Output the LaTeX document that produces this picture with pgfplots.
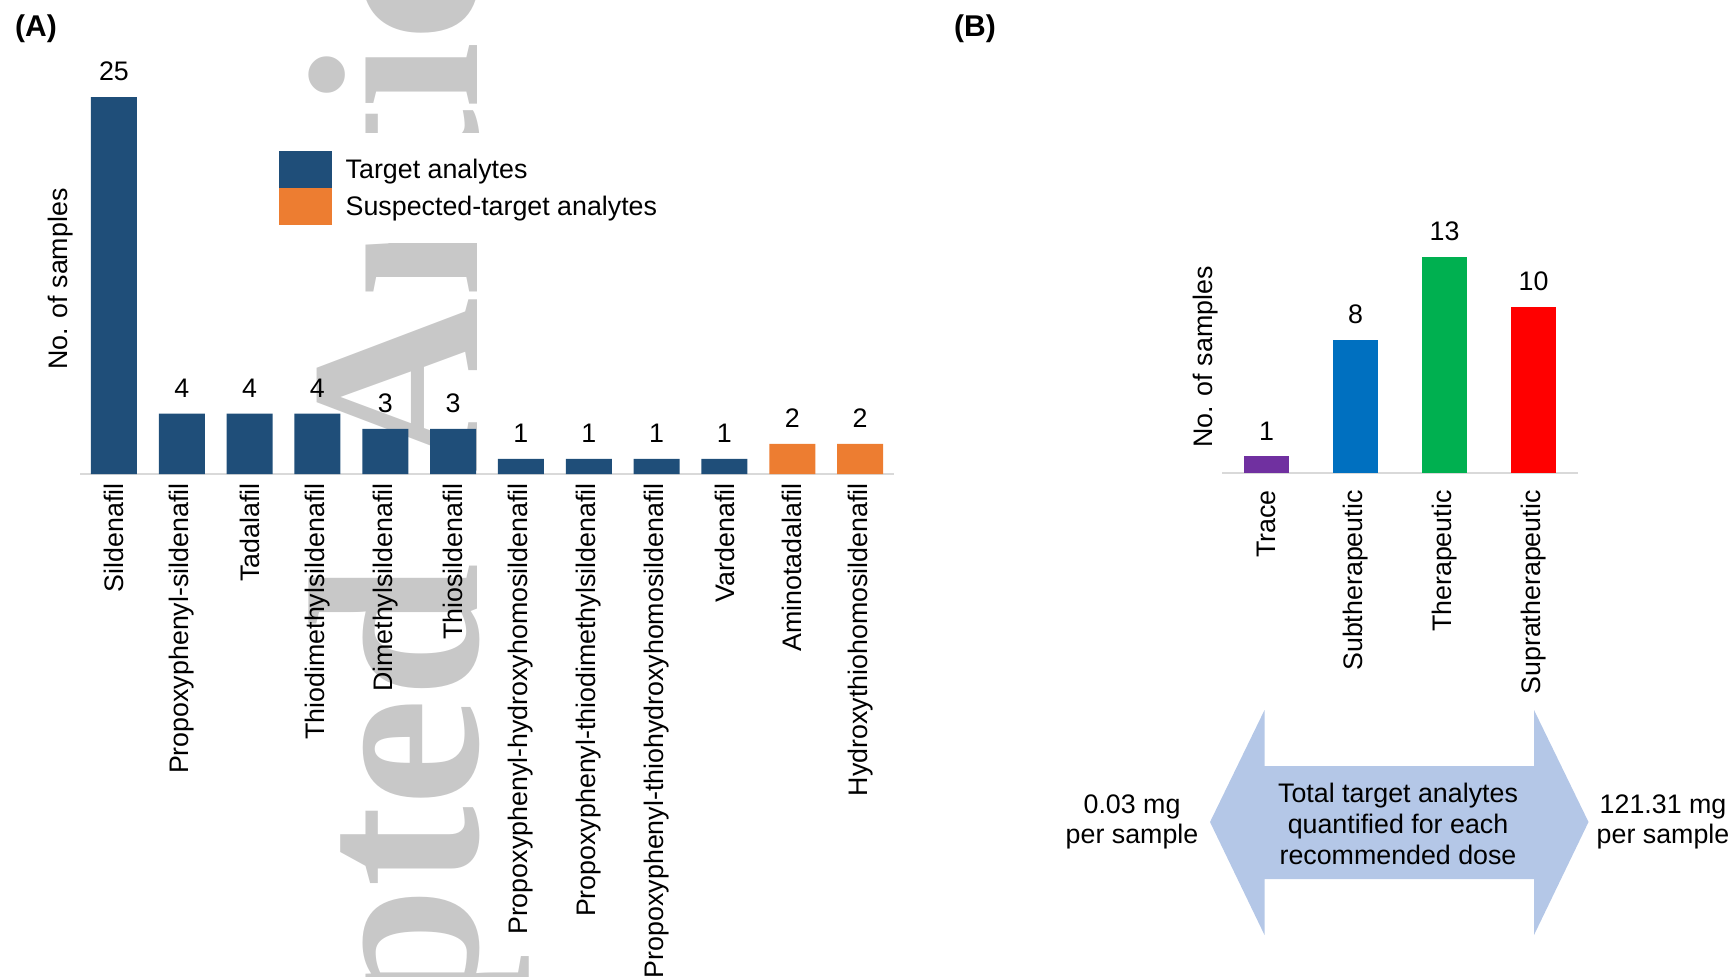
\documentclass[border=0pt]{standalone}
\usepackage{pgfplots}
\pgfplotsset{compat=1.18}
\usepackage{pgfplotstable}
\usepackage{fontspec}
\setmainfont{Liberation Sans}[Ligatures=CommonOff]
\newfontfamily\wmfont{Liberation Serif}
\definecolor{tblue}{HTML}{1F4E79}
\definecolor{torange}{HTML}{ED7D31}
\definecolor{cpurple}{HTML}{7030A0}
\definecolor{cblue}{HTML}{0070C0}
\definecolor{cgreen}{HTML}{00B050}
\definecolor{cred}{HTML}{FF0000}
\definecolor{arrowblue}{HTML}{B4C7E7}
\definecolor{wmgray}{HTML}{C8C8C8}
\definecolor{axgray}{HTML}{D9D9D9}
\newcommand{\fs}{\fontsize{13.4}{15.4}\selectfont}

\pgfplotstableread{
x y
0 25
1 4
2 4
3 4
4 3
5 3
6 1
7 1
8 1
9 1
}\targetA
\pgfplotstableread{
x y
10 2
11 2
}\suspA
\pgfplotstableread{
x y
0 1
}\traceB
\pgfplotstableread{
x y
1 8
}\subB
\pgfplotstableread{
x y
2 13
}\therB
\pgfplotstableread{
x y
3 10
}\supB

\pgfplotsset{
  common/.style={
    scale only axis, clip=false, enlargelimits=false,
    axis x line=bottom, axis y line=left, axis line style={-},
    y axis line style={draw=none},
    x axis line style={draw=axgray, line width=1pt},
    ytick=\empty, xtick style={draw=none}, major tick length=0pt,
    ymin=0,
    ybar, 
    /pgf/number format/assume math mode=true,
    tick label style={font=\fs, text=black},
    label style={font=\fs},
    xticklabel style={rotate=90, anchor=east, inner sep=0pt},
    nodes near coords,
    every node near coord/.append style={font=\fs, text=black, anchor=south, inner sep=0pt, yshift=8pt},
  }
}

\begin{document}
\begin{tikzpicture}
\begin{scope}[x=0.5pt, y=-0.5pt]
  \begin{scope}
    \clip (0,0) rectangle (1733,976);
    \node[rotate=90, anchor=base west, inner sep=0pt, text=wmgray,
      font=\wmfont\bfseries\fontsize{121.5}{140}\selectfont] at (477,1522) {Accepted};
    \node[rotate=90, anchor=base west, inner sep=0pt, text=wmgray,
      font=\wmfont\bfseries\fontsize{121.5}{140}\selectfont] at (477,474) {Article};
  \end{scope}
  % arrow
  \fill[arrowblue] (1210,822) -- (1264.5,710) -- (1264.5,766) -- (1534,766) -- (1534,710)
    -- (1588.5,822) -- (1534,935) -- (1534,879) -- (1264.5,879) -- (1264.5,935) -- cycle;
  \node[align=center, font=\fs, inner sep=0pt] at (1398,824) {Total target analytes\\quantified for each\\recommended dose};
  \node[align=center, font=\fs, inner sep=0pt] at (1132,822) {0.03 mg\\per sample};
  \node[align=center, font=\fs, inner sep=0pt] at (1663,822) {121.31 mg\\per sample};
  \node[font=\bfseries\fontsize{15}{18}\selectfont, inner sep=0pt] at (36,29) {(A)};
  \node[font=\bfseries\fontsize{15}{18}\selectfont, inner sep=0pt] at (975,29) {(B)};
\end{scope}

\begin{axis}[common,
  at={(40pt,-237pt)}, anchor=south west,
  width=407pt, height=188.5pt,
  xmin=-0.5, xmax=11.5, ymax=25,
  bar width=23pt,
  xtick={0,...,11},
  xticklabels={Sildenafil, Propoxyphenyl-sildenafil, Tadalafil, Thiodimethylsildenafil, Dimethylsildenafil, Thiosildenafil, Propoxyphenyl-hydroxyhomosildenafil, Propoxyphenyl-thiodimethylsildenafil, Propoxyphenyl-thiohydroxyhomosildenafil, Vardenafil, Aminotadalafil, Hydroxythiohomosildenafil},
  xticklabel shift=4.5pt,
  ylabel={No. of samples},
  ylabel style={at={(axis description cs:-0.0233,0.517)}, anchor=center},
  legend style={at={(axis description cs:0.2215,0.9045)}, anchor=north west,
    draw=none, fill=white, inner sep=9pt, row sep=0pt, font=\fs,
    nodes={inner sep=0pt},
    /tikz/every odd column/.append style={column sep=7pt}},
  legend cell align=left,
  legend image code/.code={\fill[#1] (0pt,-9.25pt) rectangle (26.5pt,9.25pt);},
]
\addplot[fill=tblue, draw=none, bar shift=0pt] table[x=x,y=y] {\targetA};
\addlegendentry{Target analytes}
\addplot[fill=torange, draw=none, bar shift=0pt] table[x=x,y=y] {\suspA};
\addlegendentry{Suspected-target analytes}
\end{axis}

\begin{axis}[common,
  at={(611pt,-236.5pt)}, anchor=south west,
  width=178pt, height=108pt,
  xmin=-0.5, xmax=3.5, ymax=13,
  bar width=22.5pt,
  xtick={0,...,3},
  xticklabels={Trace, Subtherapeutic, Therapeutic, Supratherapeutic},
  xticklabel shift=8.5pt,
  ylabel={No. of samples},
  ylabel style={at={(axis description cs:-0.045,0.537)}, anchor=center},
]
\addplot[fill=cpurple, draw=none, bar shift=0pt] table[x=x,y=y] {\traceB};
\addplot[fill=cblue, draw=none, bar shift=0pt] table[x=x,y=y] {\subB};
\addplot[fill=cgreen, draw=none, bar shift=0pt] table[x=x,y=y] {\therB};
\addplot[fill=cred, draw=none, bar shift=0pt] table[x=x,y=y] {\supB};
\end{axis}
\pgfresetboundingbox
\path[use as bounding box] (0pt,0pt) rectangle (866.5pt,-488pt);
\end{tikzpicture}
\end{document}
